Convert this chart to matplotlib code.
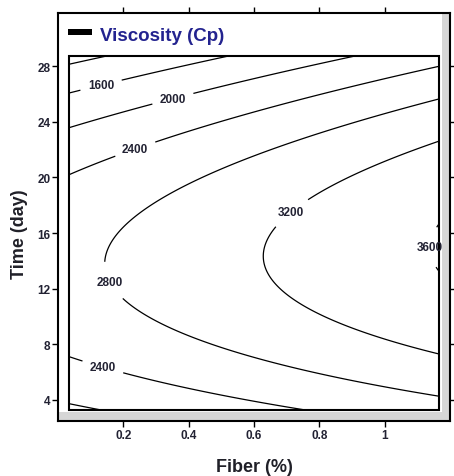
import numpy as np
import matplotlib
matplotlib.use('Agg')
import matplotlib.pyplot as plt
from matplotlib.patches import Rectangle

# ---- data (viscosity, Cp) ----
fiber_levels = [0.05, 0.3, 0.6, 0.9, 1.15]          # Fiber (%)
time_levels = [4, 8, 12, 16, 20, 24, 28]             # Time (day)
viscosity_grid = [                                   # rows: time, cols: fiber
    [2050, 2218, 2414, 2599, 2748],
    [2490, 2675, 2892, 3097, 3262],
    [2700, 2903, 3140, 3365, 3547],
    [2681, 2901, 3158, 3402, 3601],
    [2433, 2668, 2945, 3209, 3424],
    [1955, 2205, 2501, 2786, 3017],
    [1245, 1512, 1827, 2132, 2380],
]
contour_levels = [1200, 1600, 2000, 2400, 2800, 3200, 3600]
label_positions = [(0.13, 26.8), (0.35, 25.8), (0.243, 21.6), (0.16, 12.5),
                   (0.71, 17.6), (1.115, 15.0), (0.14, 6.6)]
fiber_range = [0.034, 1.166]
time_range = [3.27, 28.73]
x_ticks = [0.2, 0.4, 0.6, 0.8, 1.0]
x_tick_labels = ['0.2', '0.4', '0.6', '0.8', '1']
y_ticks = [4, 8, 12, 16, 20, 24, 28]
y_tick_labels = ['4', '8', '12', '16', '20', '24', '28']

plt.rcParams['font.family'] = ['Liberation Sans', 'DejaVu Sans']

# quadratic response-surface fit of the grid (as in the original RSM software)
F, T = np.meshgrid(np.array(fiber_levels, float), np.array(time_levels, float))
Z = np.array(viscosity_grid, float)
def design(f, t):
    return np.column_stack([np.ones_like(f), f, t, f * f, t * t, f * t])
coef, *_ = np.linalg.lstsq(design(F.ravel(), T.ravel()), Z.ravel(), rcond=None)
fx = np.linspace(fiber_range[0], fiber_range[1], 300)
ty = np.linspace(time_range[0], time_range[1], 300)
FX, TY = np.meshgrid(fx, ty)
ZZ = (design(FX.ravel(), TY.ravel()) @ coef).reshape(FX.shape)

fig = plt.figure(figsize=(4.54, 4.77), dpi=100)
ax = fig.add_axes([58 / 454, 1 - 422 / 477, 392 / 454, 408 / 477])
ax.set_xlim(0, 1.2)
ax.set_ylim(2.49, 31.81)

txtc = '#222233'
# shadow strips
ax.add_patch(Rectangle(((442 - 58) / 392, 1 / 408), 7 / 392, 406 / 408,
                       transform=ax.transAxes, color='#d6d6d6', lw=0, zorder=0.5))
ax.add_patch(Rectangle((1 / 392, 1 / 408), 390 / 392, 8 / 408,
                       transform=ax.transAxes, color='#d6d6d6', lw=0, zorder=0.5))

cs = ax.contour(FX, TY, ZZ, levels=contour_levels, colors='black', linewidths=0.9)
labels = ax.clabel(cs, manual=label_positions, inline=True,
                   fontsize=8.5, fmt='%d', colors=txtc, inline_spacing=8)
for t in labels:
    t.set_fontweight('bold')
    t.set_rotation(0)

ax.add_patch(Rectangle((fiber_range[0], time_range[0]),
                       fiber_range[1] - fiber_range[0], time_range[1] - time_range[0],
                       fill=False, ec='black', lw=1.5, zorder=3))

for s in ax.spines.values():
    s.set_linewidth(1.5)

ax.set_xticks(x_ticks)
ax.set_xticklabels(x_tick_labels, fontweight='bold')
ax.set_yticks(y_ticks)
ax.set_yticklabels(y_tick_labels, fontweight='bold')
ax.tick_params(direction='out', length=4, width=1, top=True, right=True,
               labelsize=8.5, pad=1.5, labelcolor=txtc)

# legend-like title
ax.add_patch(Rectangle(((68.3 - 58) / 392, (422 - 35.7) / 408), 23.4 / 392, 5.7 / 408,
                       transform=ax.transAxes, color='black', lw=0, clip_on=False))
ax.text((100 - 58) / 392, (422 - 40.7) / 408, 'Viscosity (Cp)', transform=ax.transAxes,
        fontsize=13.5, fontweight='bold', color='#23238f', va='baseline', ha='left')

fig.text(254 / 454, 1 - 468 / 477, 'Fiber (%)', fontsize=13, fontweight='bold',
         color='#202028', ha='center', va='center')
fig.text(20 / 454, 1 - 234 / 477, 'Time (day)', fontsize=13, fontweight='bold',
         color='#202028', ha='center', va='center', rotation=90)

fig.savefig('out.png', dpi=100)
